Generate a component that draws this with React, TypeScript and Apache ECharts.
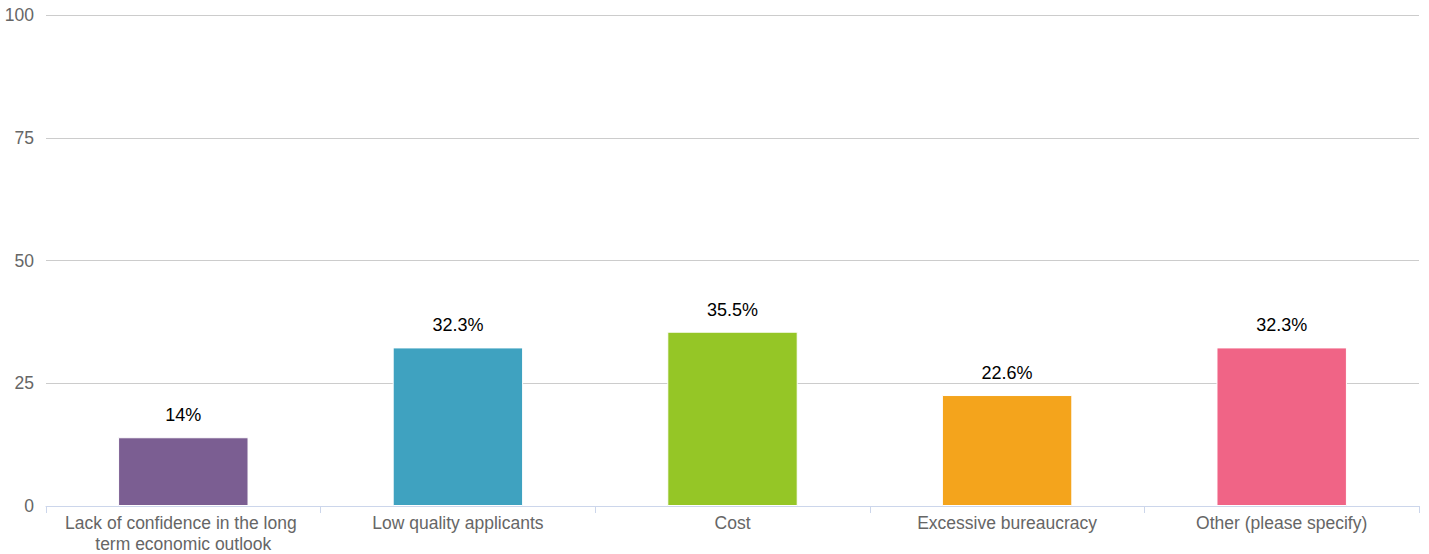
import React, { useEffect, useRef } from "react";
import * as echarts from "echarts";

const categories = [
  "Lack of confidence in the long term economic outlook",
  "Low quality applicants",
  "Cost",
  "Excessive bureaucracy",
  "Other (please specify)",
];
const values = [14, 32.3, 35.5, 22.6, 32.3];
const colors = ["#7b5e92", "#3fa2c0", "#95c626", "#f4a41c", "#f06486"];
const yTicks = [0, 25, 50, 75, 100];

export default function App() {
  const ref = useRef<HTMLDivElement>(null);
  useEffect(() => {
    if (!ref.current) return;
    const chart = echarts.init(ref.current, undefined, { renderer: "svg" });
    chart.setOption({
      animation: false,
      textStyle: { fontFamily: "Liberation Sans, Arial, sans-serif" },
      grid: { left: 46, right: 10, top: 15, bottom: 46, containLabel: false },
      xAxis: {
        type: "category",
        data: categories,
        axisLine: { lineStyle: { color: "#ccd6eb", width: 1 } },
        axisTick: { show: true, length: 7, lineStyle: { color: "#ccd6eb" } },
        axisLabel: {
          color: "#666666",
          fontSize: 17.5,
          width: 250,
          overflow: "break",
          lineHeight: 21,
          margin: 6,
          interval: 0,
        },
      },
      yAxis: {
        type: "value",
        min: 0,
        max: yTicks[yTicks.length - 1],
        interval: 25,
        axisLine: { show: false },
        axisTick: { show: false },
        splitLine: { lineStyle: { color: "#cccccc", width: 1 } },
        axisLabel: { color: "#666666", fontSize: 17.5, margin: 12 },
      },
      series: [
        {
          type: "bar",
          barWidth: "47.5%",
          data: values.map((v, i) => ({
            value: v,
            itemStyle: { color: colors[i], borderColor: "#ffffff", borderWidth: 1 },
          })),
          label: {
            show: true,
            position: "top",
            distance: 13,
            color: "#000000",
            fontSize: 18,
            formatter: (p: any) => `${p.value}%`,
          },
        },
      ],
    });
    return () => chart.dispose();
  }, []);
  return (
    <div
      ref={ref}
      style={{ position: "fixed", left: 0, top: 0, width: 1429, height: 554, background: "#fff" }}
    />
  );
}
